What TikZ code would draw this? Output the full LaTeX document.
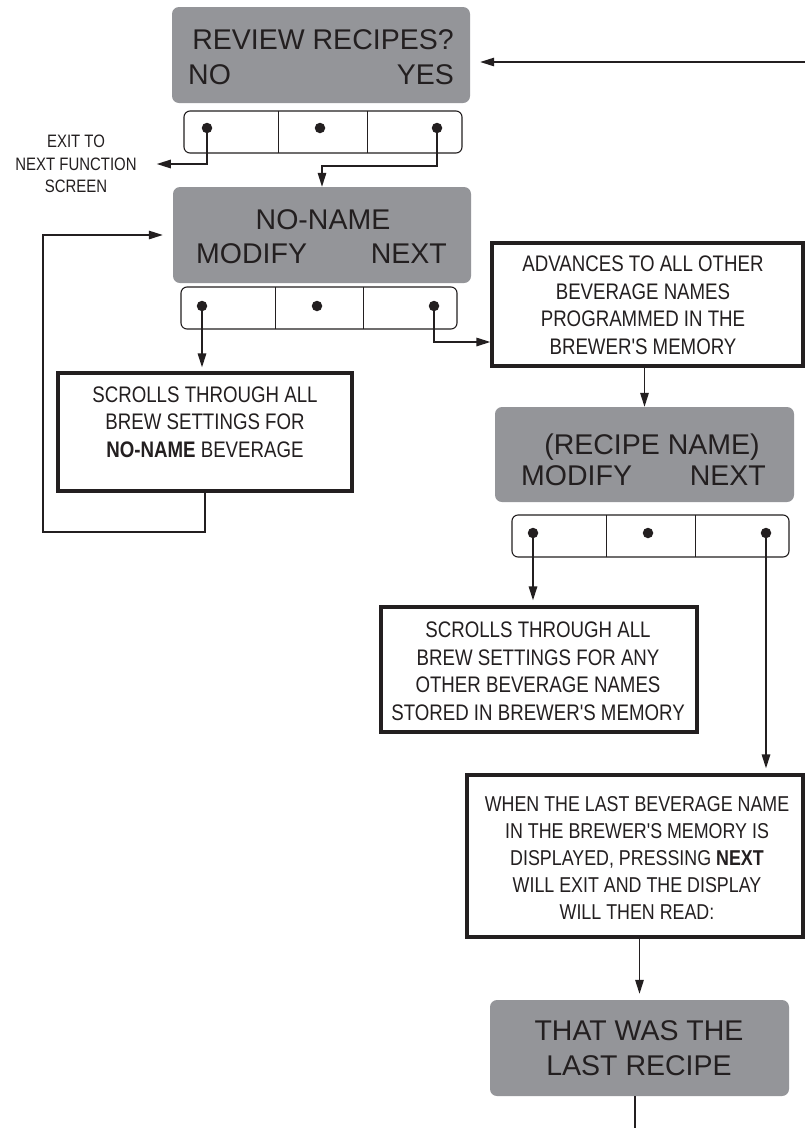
\documentclass[tikz,border=0pt]{standalone}
\usepackage{fontspec}
\setmainfont{Liberation Sans}
\newfontfamily\narrowfont[FakeStretch=0.83]{Liberation Sans}
\usetikzlibrary{arrows.meta}
\definecolor{lcdgray}{RGB}{148,149,153}
\definecolor{ink}{RGB}{35,31,32}
\tikzset{
  lcd/.style = {fill=lcdgray, rounded corners=7pt, inner sep=0pt, minimum width=298pt, minimum height=96pt},
  lcdtext/.style = {text=ink, inner sep=0pt, anchor=base, font=\fontsize{28.5}{34}\selectfont},
  keypad/.style = {draw=ink, line width=1.1pt, rounded corners=6pt, inner sep=0pt, minimum height=42pt},
  divider/.style = {draw=ink, line width=0.9pt},
  keydot/.style = {circle, fill=ink, inner sep=0pt, minimum size=10.5pt},
  notebox/.style = {draw=ink, line width=3.3pt, fill=white, inner sep=0pt},
  notetext/.style = {text=ink, align=center, inner sep=0pt, font=\narrowfont\fontsize{22.5}{27.5}\selectfont},
  flow/.style = {draw=ink, line width=1.4pt, -{Triangle[length=14pt,width=8.5pt]}},
}
\begin{document}
\begin{tikzpicture}[x=1pt,y=-1pt]
  \useasboundingbox [fill=white] (0,0) rectangle (805,1128);

  \node (review) [lcd] at (321,55) {};
    \node (reviewq) [lcdtext] at (323,49) {REVIEW RECIPES?};
    \node (reviewno) [lcdtext, anchor=base west] at (188,84) {NO};
    \node (reviewyes) [lcdtext, anchor=base east] at (454,84) {YES};

  \node (pad1) [keypad, minimum width=278pt] at (323,132) {};
  \draw [divider] (278,111) -- (278,153);
  \draw [divider] (367,111) -- (367,153);
    \node (pad1no) [keydot] at (207,128) {};
    \node (pad1mid) [keydot] at (320,128) {};
    \node (pad1yes) [keydot] at (437,128) {};

  \node (exitnote) [notetext, font=\narrowfont\fontsize{18}{22.5}\selectfont] at (76,164) {EXIT TO\\NEXT FUNCTION\\SCREEN};

  \node (noname) [lcd] at (322,235) {};
    \node (nonameq) [lcdtext] at (323,229) {NO-NAME};
    \node (nonamemod) [lcdtext, anchor=base west] at (196,263) {MODIFY};
    \node (nonamenext) [lcdtext, anchor=base east] at (447,263) {NEXT};

  \node (pad2) [keypad, minimum width=276pt] at (319,308) {};
  \draw [divider] (275,287) -- (275,329);
  \draw [divider] (363,287) -- (363,329);
    \node (pad2mod) [keydot] at (202,306) {};
    \node (pad2mid) [keydot] at (317,306) {};
    \node (pad2next) [keydot] at (434,306) {};

  \node (scroll1) [notebox, minimum width=294pt, minimum height=118pt] at (205,432) {};
    \node (scroll1txt) [notetext] at (205,422) {SCROLLS THROUGH ALL\\BREW SETTINGS FOR\\{\bfseries NO-NAME} BEVERAGE};

  \node (advance) [notebox, minimum width=311pt, minimum height=123pt] at (647.5,304.5) {};
    \node (advancetxt) [notetext] at (643,305) {ADVANCES TO ALL OTHER\\BEVERAGE NAMES\\PROGRAMMED IN THE\\BREWER'S MEMORY};

  \node (recipe) [lcd, minimum width=299pt, minimum height=95pt] at (644.5,454.5) {};
    \node (recipeq) [lcdtext] at (652,454) {(RECIPE NAME)};
    \node (recipemod) [lcdtext, anchor=base west] at (521,485) {MODIFY};
    \node (recipenext) [lcdtext, anchor=base east] at (766,485) {NEXT};

  \node (pad3) [keypad, minimum width=277pt] at (650.5,536) {};
  \draw [divider] (606,515) -- (606,557);
  \draw [divider] (695,515) -- (695,557);
    \node (pad3mod) [keydot] at (533,533) {};
    \node (pad3mid) [keydot] at (648,533) {};
    \node (pad3next) [keydot] at (766,533) {};

  \node (scroll2) [notebox, minimum width=316pt, minimum height=125pt] at (539,669.5) {};
    \node (scroll2txt) [notetext] at (538,671) {SCROLLS THROUGH ALL\\BREW SETTINGS FOR ANY\\OTHER BEVERAGE NAMES\\STORED IN BREWER'S MEMORY};

  \node (lastnote) [notebox, minimum width=336pt, minimum height=162pt] at (635,856) {};
    \node (lastnotetxt) [notetext, font=\narrowfont\fontsize{21.5}{26.8}\selectfont] at (637,858) {WHEN THE LAST BEVERAGE NAME\\IN THE BREWER'S MEMORY IS\\DISPLAYED, PRESSING {\bfseries NEXT}\\WILL EXIT AND THE DISPLAY\\WILL THEN READ:};

  \node (lastrecipe) [lcd, minimum width=299pt] at (639.5,1048) {};
    \node (lastrecipe1) [lcdtext] at (639,1040) {THAT WAS THE};
    \node (lastrecipe2) [lcdtext] at (639,1075) {LAST RECIPE};

  \coordinate (reentry) at (805,62);
  \coordinate (loopfoot) at (43,532);
  \coordinate (outlet) at (635,1128);
  \path (pad2next.center) ++(0,36) coordinate (padturn);

  \draw [flow, shorten >=10pt] (reentry) -- (reentry -| review.east);
  \draw [flow, shorten >=20pt] (pad1no.center) |- (exitnote.east);
  \draw [flow] (pad1yes.center) -- ++(0,38) -| (noname.north);
  \draw [flow, shorten >=10pt] (scroll1.south) |- (loopfoot) |- (noname.west);
  \draw [flow, shorten >=4pt] (pad2mod.center) -- (pad2mod.center |- scroll1.north);
  \draw [flow] (pad2next.center) -- (padturn) -- (padturn -| advance.west);
  \draw [flow] (recipe.north |- advance.south) -- (recipe.north);
  \draw [flow, shorten >=5pt] (pad3mod.center) -- (pad3mod.center |- scroll2.north);
  \draw [flow, shorten >=5pt] (pad3next.center) -- (pad3next.center |- lastnote.north);
  \draw [flow, shorten >=6pt] (lastrecipe.north |- lastnote.south) -- (lastrecipe.north);
  \draw [draw=ink, line width=1.4pt] (lastrecipe.south -| outlet) -- (outlet);
\end{tikzpicture}
\end{document}
